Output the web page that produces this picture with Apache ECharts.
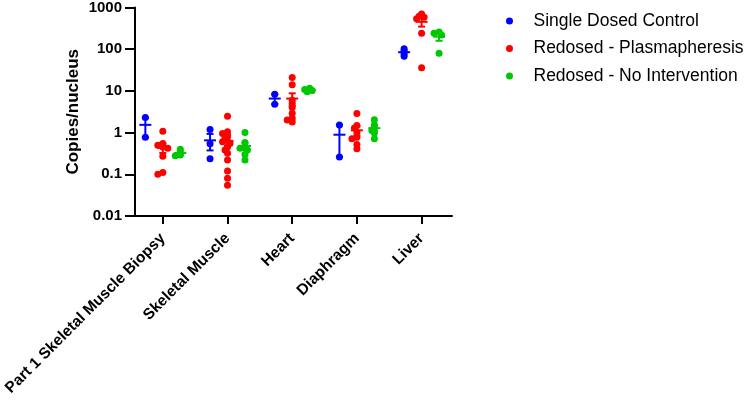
<!DOCTYPE html>
<html><head><meta charset="utf-8">
<script src="https://cdn.jsdelivr.net/npm/echarts@6/dist/echarts.min.js"></script>
<style>html,body{margin:0;padding:0;background:#fff}#c{width:744px;height:401px}</style>
</head><body><div id="c"></div>
<script>
const categories = ['Part 1 Skeletal Muscle Biopsy', 'Skeletal Muscle', 'Heart', 'Diaphragm', 'Liver'];
const seriesNames = ['Single Dosed Control', 'Redosed - Plasmapheresis', 'Redosed - No Intervention'];
const singleDosed = [
  [2.3, 0.77],
  [1.18, 0.54, 0.236],
  [8.3, 4.8],
  [1.52, 0.26],
  [102, 84, 68]
];
const plasmapheresis = [
  [1.07, 0.55, 0.5, 0.45, 0.42, 0.27, 0.11, 0.1],
  [2.45, 1.05, 0.95, 0.85, 0.75, 0.65, 0.6, 0.55, 0.45, 0.38, 0.32, 0.22, 0.12, 0.08, 0.055],
  [21, 14, 6, 5, 4, 2.9, 2.2, 2.0, 1.8],
  [2.88, 1.47, 1.29, 1.02, 0.77, 0.71, 0.52, 0.41],
  [700, 620, 580, 540, 240, 36]
];
const noIntervention = [
  [0.4, 0.29, 0.28],
  [1.0, 0.58, 0.45, 0.42, 0.38, 0.3, 0.22],
  [9.5, 10.2, 10.8, 11.5],
  [2.04, 1.55, 1.27, 1.12, 0.98, 0.71],
  [260, 240, 220, 80]
];
const yTicks = [0.01, 0.1, 1, 10, 100, 1000];
const colors = ['#0000FF', '#FF0000', '#00C800'];

const FONT = "'Liberation Sans', Arial, sans-serif";
const groups = [singleDosed, plasmapheresis, noIntervention];
const groupOffset = [-0.27, 0, 0.27];
const PX_PER_UNIT = 64.7, PX_PER_DEC = 42;

function swarm(values, center) {
  const placed = [];
  const order = values.map((v, i) => i).sort((a, b) => values[b] - values[a]);
  const res = new Array(values.length);
  const cands = [0, -2.5, 2.5, -5, 5];
  order.forEach(i => {
    const y = Math.log10(values[i]) * PX_PER_DEC;
    let chosen = cands[cands.length - 1];
    for (const c of cands) {
      if (placed.every(p => Math.hypot(p.x - c, p.y - y) >= 3.2)) { chosen = c; break; }
    }
    placed.push({ x: chosen, y });
    res[i] = [center + chosen / PX_PER_UNIT, values[i]];
  });
  return res;
}
function stats(vals) {
  const n = vals.length;
  const m = vals.reduce((a, b) => a + b, 0) / n;
  const sd = Math.sqrt(vals.reduce((a, b) => a + (b - m) * (b - m), 0) / (n - 1));
  const sem = sd / Math.sqrt(n);
  return [m, Math.max(m - sem, 1e-4), m + sem];
}

const series = [];
groups.forEach((g, si) => {
  const pts = [];
  g.forEach((vals, ci) => { pts.push(...swarm(vals, ci + groupOffset[si])); });
  series.push({
    name: seriesNames[si], type: 'scatter', symbol: 'circle', symbolSize: 7,
    itemStyle: { color: colors[si], opacity: 1 }, data: pts, z: 2
  });
});
groups.forEach((g, si) => {
  const data = g.map((vals, ci) => [ci + groupOffset[si], ...stats(vals)]);
  const color = colors[si];
  series.push({
    type: 'custom', z: 3, silent: true, encode: { x: 0, y: [1, 2, 3] },
    renderItem: (params, api) => {
      const x = api.value(0);
      const pm = api.coord([x, api.value(1)]);
      const pl = api.coord([x, api.value(2)]);
      const ph = api.coord([x, api.value(3)]);
      const st = { stroke: color, lineWidth: 2 };
      return { type: 'group', children: [
        { type: 'line', shape: { x1: pm[0] - 6, y1: pm[1], x2: pm[0] + 6, y2: pm[1] }, style: st },
        { type: 'line', shape: { x1: pl[0], y1: pl[1], x2: ph[0], y2: ph[1] }, style: st },
        { type: 'line', shape: { x1: pl[0] - 3.5, y1: pl[1], x2: pl[0] + 3.5, y2: pl[1] }, style: st },
        { type: 'line', shape: { x1: ph[0] - 3.5, y1: ph[1], x2: ph[0] + 3.5, y2: ph[1] }, style: st }
      ] };
    },
    data
  });
});

const chart = echarts.init(document.getElementById('c'), null, { renderer: 'canvas' });
chart.setOption({
  animation: false,
  backgroundColor: '#fff',
  grid: { left: 135, right: 292, top: 6, bottom: 185, containLabel: false },
  legend: {
    orient: 'vertical', left: 501, top: 7, itemWidth: 38, itemHeight: 7, itemGap: 9.5,
    icon: 'circle', data: seriesNames,
    textStyle: { fontSize: 17.5, color: '#000', fontFamily: FONT }
  },
  xAxis: {
    type: 'value', min: -0.43, max: 4.47, splitLine: { show: false },
    axisLine: { show: true, onZero: false, lineStyle: { color: '#000', width: 2 } },
    axisTick: { show: true, length: 8, lineStyle: { color: '#000', width: 2 }, customValues: [0, 1, 2, 3, 4] },
    axisLabel: {
      customValues: [0, 1, 2, 3, 4], formatter: v => categories[Math.round(v)] || '',
      rotate: 45, fontSize: 15.5, fontWeight: 'bold', color: '#000', margin: 20, fontFamily: FONT
    }
  },
  yAxis: {
    type: 'log', logBase: 10, min: 0.01, max: 1000,
    name: 'Copies/nucleus', nameLocation: 'middle', nameGap: 53, nameRotate: 90,
    nameTextStyle: { fontSize: 17, fontWeight: 'bold', color: '#000', fontFamily: FONT },
    axisLine: { show: true, onZero: false, lineStyle: { color: '#000', width: 2 } },
    axisTick: { show: true, length: 10, lineStyle: { color: '#000', width: 2 } },
    axisLabel: {
      fontSize: 15, fontWeight: 'bold', color: '#000', margin: 13, fontFamily: FONT,
      formatter: v => { const t = yTicks.find(t => Math.abs(Math.log10(t) - Math.log10(v)) < 1e-6); return t === undefined ? '' : String(t); }
    },
    splitLine: { show: false }, minorTick: { show: false }
  },
  series
});
</script>
</body></html>
